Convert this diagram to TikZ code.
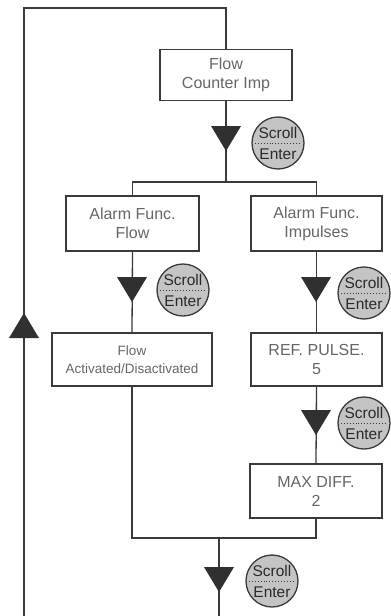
\documentclass[tikz,border=0pt]{standalone}
\usepackage{fontspec}
\setmainfont{Liberation Sans}
\begin{document}
\begin{tikzpicture}[x=1pt,y=-1pt,
  conn/.style={draw=linec, line width=1.3pt},
  box/.style={draw=linec, line width=1.3pt, rectangle, fill=white, align=center,
    text=boxtext, font=\fontsize{16}{19}\selectfont, inner sep=2pt},
  btn/.style={circle, draw=linec, line width=1.3pt, fill=btnfill, minimum size=52pt, inner sep=0pt},
  btntext/.style={text=btntextc, font=\fontsize{15.5}{15}\selectfont, inner sep=0pt},
  downtri/.pic={\fill[trifill] (-15,0) -- (15,0) -- (0,25) -- cycle;},
  uptri/.pic={\fill[trifill] (-15,0) -- (15,0) -- (0,-25) -- cycle;}
]
\definecolor{linec}{HTML}{3A3A3A}
\definecolor{boxtext}{HTML}{666666}
\definecolor{btnfill}{HTML}{C4C4C4}
\definecolor{btntextc}{HTML}{2A2A2A}
\definecolor{trifill}{HTML}{303030}
\useasboundingbox (0,0) rectangle (391,616);

\newcommand\scrollenter[2]{%
  \node[btn] (#1) at (#2) {};
  \draw[linec, line width=0.9pt, dotted] ([xshift=-23pt]#1.center) -- ([xshift=23pt]#1.center);
  \node[btntext] (#1s) at ([yshift=10.5pt]#1.center) {Scroll};
  \node[btntext] (#1e) at ([yshift=-11pt]#1.center) {Enter};
}

% boxes
\node[box, minimum width=132pt, minimum height=51pt] (fci) at (226,75) {Flow\\Counter Imp};
\node[box, minimum width=133pt, minimum height=55pt] (af) at (132.5,223.5) {Alarm Func.\\Flow};
\node[box, minimum width=131pt, minimum height=55pt] (ai) at (316.5,223.5) {Alarm Func.\\Impulses};
\node[box, minimum width=160pt, minimum height=53pt, font=\fontsize{13.5}{18}\selectfont] (fad) at (132,359.5) {Flow\\Activated/Disactivated};
\node[box, minimum width=131pt, minimum height=53pt] (rp) at (316.5,359.5) {REF. PULSE.\\5};
\node[box, minimum width=132pt, minimum height=54pt] (md) at (316,491) {MAX DIFF.\\2};

% coordinates
\coordinate (bl) at (24,616);
\coordinate (top) at (226,8);
\coordinate (split) at (226,182);
\coordinate (merge) at (219,538);
\coordinate (bout) at (219,616);

% connectors
\draw[conn] (bl) |- (top) -- (fci.north);
\draw[conn] (fci.south) -- (split);
\draw[conn] (af.north) |- (split) -| (ai.north);
\draw[conn] (af.south) -- (fad.north);
\draw[conn] (ai.south) -- (rp.north);
\draw[conn] (rp.south) -- (md.north);
\draw[conn] (fad.south) |- (merge) -| (md.south);
\draw[conn] (merge) -- (bout);

% triangles
\pic at (226,126) {downtri};
\pic at (132,277) {downtri};
\pic at (316,277) {downtri};
\pic at (316,410) {downtri};
\pic at (219,567) {downtri};
\pic at (24,338) {uptri};

% scroll/enter buttons
\scrollenter{b1}{278,143}
\scrollenter{b2}{183,290}
\scrollenter{b3}{364,293}
\scrollenter{b4}{364,423}
\scrollenter{b5}{272,581}
\end{tikzpicture}
\end{document}
